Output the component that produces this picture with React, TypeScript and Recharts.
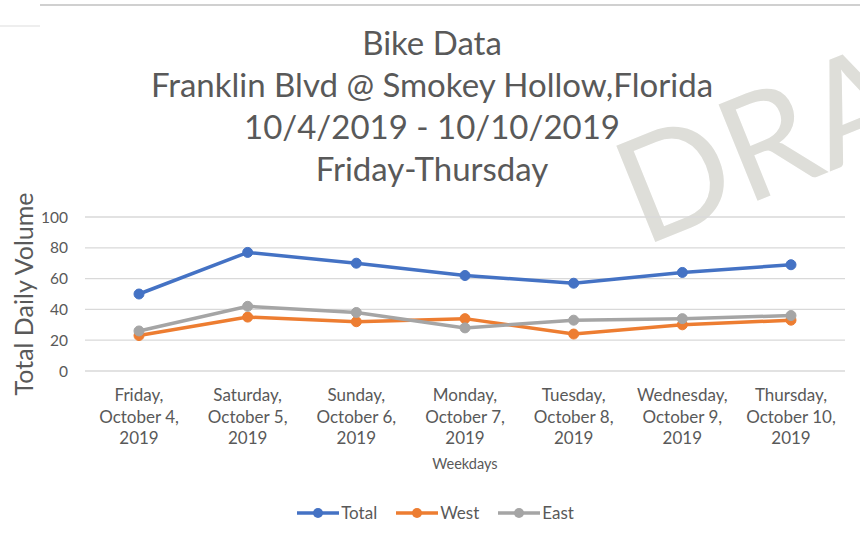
import { CartesianGrid, Legend, Line, LineChart, XAxis, YAxis } from "recharts";

const weekdays = ["Friday,", "Saturday,", "Sunday,", "Monday,", "Tuesday,", "Wednesday,", "Thursday,"];
const dates = ["October 4,", "October 5,", "October 6,", "October 7,", "October 8,", "October 9,", "October 10,"];
const years = ["2019", "2019", "2019", "2019", "2019", "2019", "2019"];

const total = [50, 77, 70, 62, 57, 64, 69];
const west = [23, 35, 32, 34, 24, 30, 33];
const east = [26, 42, 38, 28, 33, 34, 36];

const yTicks = [0, 20, 40, 60, 80, 100];

const titleLines = [
  "Bike Data",
  "Franklin Blvd @ Smokey Hollow,Florida",
  "10/4/2019 - 10/10/2019",
  "Friday-Thursday",
];

const FONT = "Lato, 'Open Sans', sans-serif";
const TEXT = "#595959";

const SERIES = [
  { key: "Total", color: "#4472C4" },
  { key: "West", color: "#ED7D31" },
  { key: "East", color: "#A5A5A5" },
];

const data = weekdays.map((d, i) => ({
  name: `${d} ${dates[i]} ${years[i]}`,
  Total: total[i],
  West: west[i],
  East: east[i],
}));

function DayTick(props: any) {
  const { x, y, payload } = props;
  const i = payload.index;
  return (
    <text x={x} y={y} textAnchor="middle" fill={TEXT} fontSize={17} fontFamily={FONT}>
      <tspan x={x} dy={28}>{weekdays[i]}</tspan>
      <tspan x={x} dy={21.5}>{dates[i]}</tspan>
      <tspan x={x} dy={21}>{years[i]}</tspan>
    </text>
  );
}

function LegendContent() {
  return (
    <div
      style={{
        display: "flex",
        justifyContent: "center",
        height: 20,
        fontFamily: FONT,
        fontSize: 17,
        lineHeight: "20px",
        color: TEXT,
        paddingLeft: 30,
      }}
    >
      {SERIES.map((s) => (
        <div key={s.key} style={{ display: "flex", alignItems: "center", marginRight: 19 }}>
          <svg width={42} height={12} style={{ marginRight: 2 }}>
            <line x1={0} y1={6} x2={42} y2={6} stroke={s.color} strokeWidth={3.5} />
            <circle cx={21} cy={6} r={5} fill={s.color} />
          </svg>
          <span>{s.key}</span>
        </div>
      ))}
    </div>
  );
}

export default function App() {
  return (
    <div style={{ position: "fixed", left: 0, top: 0, width: 860, height: 538, background: "#fff", overflow: "hidden" }}>
      <svg width={860} height={538} style={{ position: "absolute", left: 0, top: 0 }}>
        <line x1={40} y1={5} x2={860} y2={5} stroke="#d0d0d0" strokeWidth={2} />
        <line x1={0} y1={26} x2={40} y2={26} stroke="#eeeeee" strokeWidth={2} />
        <text
          x={643}
          y={247}
          transform="rotate(-22 643 247)"
          fontSize={145}
          fontFamily={FONT}
          fill="#deded9"
        >
          DRA
        </text>
      </svg>
      <div
        style={{
          position: "absolute",
          left: 2,
          top: 21,
          width: 860,
          textAlign: "center",
          fontFamily: FONT,
          fontSize: 33,
          lineHeight: "42px",
          color: TEXT,
        }}
      >
        {titleLines.map((t) => (
          <div key={t}>{t}</div>
        ))}
      </div>
      <div style={{ position: "absolute", left: 0, top: 0 }}>
        <LineChart width={860} height={538} data={data} margin={{ top: 217, right: 15, bottom: 47, left: 0 }}>
          <CartesianGrid vertical={false} stroke="#d9d9d9" strokeWidth={1.3} />
          <XAxis
            dataKey="name"
            axisLine={false}
            tickLine={false}
            tickSize={0}
            interval={0}
            padding={{ left: 54, right: 54 }}
            tick={<DayTick />}
            height={100}
            label={{ value: "Weekdays", position: "insideBottom", offset: 2, fill: TEXT, fontSize: 14.5, fontFamily: FONT }}
          />
          <YAxis
            domain={[0, 100]}
            ticks={yTicks}
            axisLine={false}
            tickLine={false}
            tickSize={0}
            tickMargin={17}
            width={85}
            tick={{ fill: TEXT, fontSize: 15.5, fontFamily: FONT }}
            label={{
              value: "Total Daily Volume",
              angle: -90,
              position: "center",
              dx: -18,
              fill: TEXT,
              fontSize: 25,
              fontFamily: FONT,
            }}
          />
          <Legend
            verticalAlign="bottom"
            content={<LegendContent />}
            wrapperStyle={{ position: "absolute", top: 503, left: 0, width: 860, height: 20 }}
          />
          {SERIES.map((s) => (
            <Line
              key={s.key}
              dataKey={s.key}
              stroke={s.color}
              strokeWidth={3.5}
              dot={{ r: 5, fill: s.color, stroke: s.color, strokeWidth: 1 }}
              activeDot={false}
              isAnimationActive={false}
            />
          ))}
        </LineChart>
      </div>
    </div>
  );
}
